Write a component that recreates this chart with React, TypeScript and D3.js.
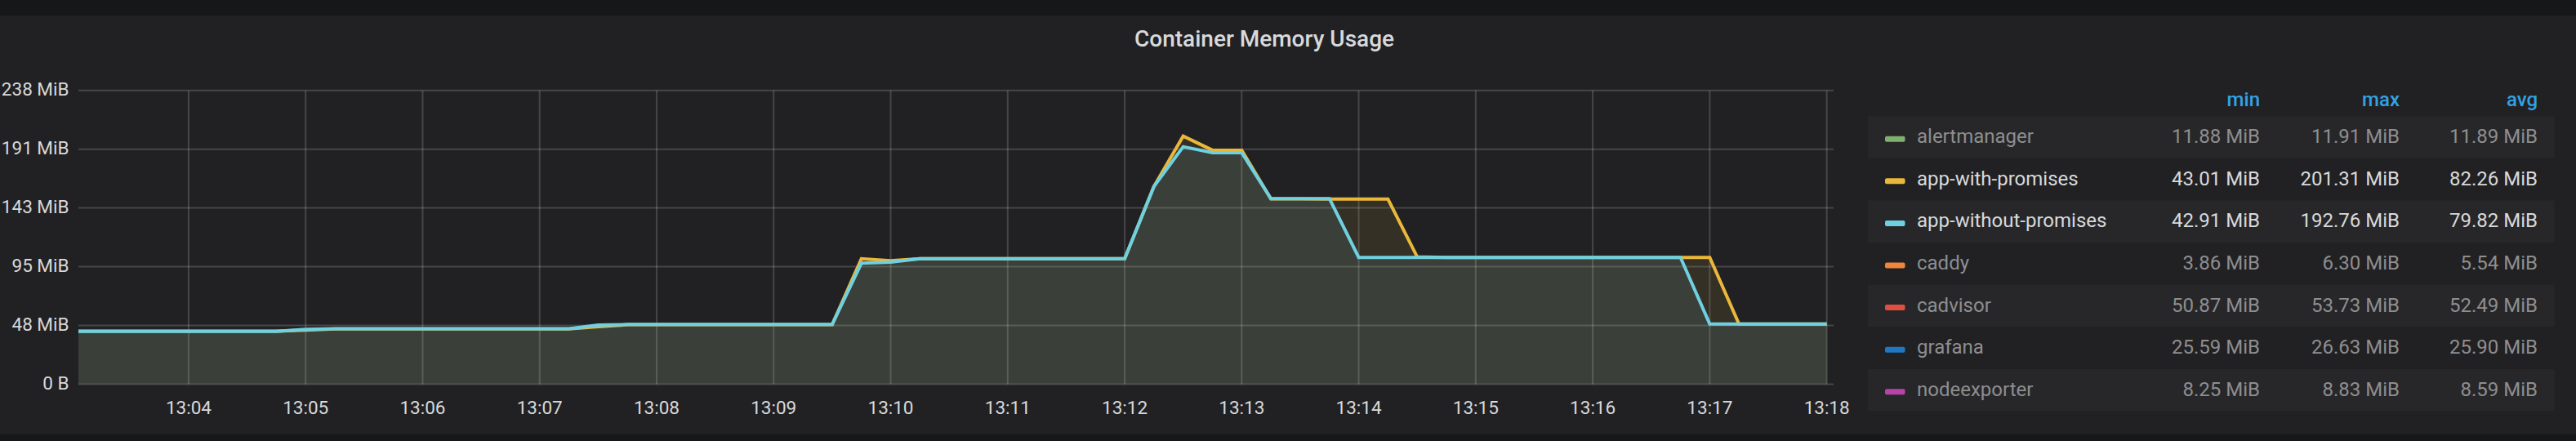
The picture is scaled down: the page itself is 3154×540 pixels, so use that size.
import React from "react";
import * as d3 from "d3";

const MIB = 1048576;

const times = [
  "13:03:00", "13:03:15", "13:03:30", "13:03:45", "13:04:00", "13:04:15", "13:04:30", "13:04:45",
  "13:05:00", "13:05:15", "13:05:30", "13:05:45", "13:06:00", "13:06:15", "13:06:30", "13:06:45",
  "13:07:00", "13:07:15", "13:07:30", "13:07:45", "13:08:00", "13:08:15", "13:08:30", "13:08:45",
  "13:09:00", "13:09:15", "13:09:30", "13:09:45", "13:10:00", "13:10:15", "13:10:30", "13:10:45",
  "13:11:00", "13:11:15", "13:11:30", "13:11:45", "13:12:00", "13:12:15", "13:12:30", "13:12:45",
  "13:13:00", "13:13:15", "13:13:30", "13:13:45", "13:14:00", "13:14:15", "13:14:30", "13:14:45",
  "13:15:00", "13:15:15", "13:15:30", "13:15:45", "13:16:00", "13:16:15", "13:16:30", "13:16:45",
  "13:17:00", "13:17:15", "13:17:30", "13:17:45", "13:18:00",
];

// MiB
const appWithPromises = [
  43.01, 43.01, 43.01, 43.01, 43.01, 43.01, 43.01, 43.05,
  43.9, 44.9, 44.9, 44.9, 44.9, 44.9, 44.9, 44.9,
  44.9, 44.9, 46.7, 48.3, 48.3, 48.3, 48.3, 48.3,
  48.3, 48.3, 48.3, 101.9, 100.2, 101.8, 101.8, 101.8,
  101.8, 101.8, 101.8, 101.8, 101.8, 160.5, 201.31, 189.9,
  189.9, 150.4, 150.4, 150.2, 150.2, 150.2, 103.3, 102.9,
  102.9, 102.9, 102.9, 102.9, 102.9, 102.9, 102.9, 102.9,
  102.9, 48.9, 48.9, 48.9, 48.9,
];

const appWithoutPromises = [
  42.91, 42.91, 42.91, 42.91, 42.91, 42.91, 42.91, 42.91,
  44.6, 45.0, 45.0, 45.0, 45.0, 45.0, 45.0, 45.0,
  45.0, 45.0, 48.0, 48.5, 48.5, 48.5, 48.5, 48.5,
  48.5, 48.5, 48.5, 98.2, 99.1, 101.8, 101.8, 101.8,
  101.8, 101.8, 101.8, 101.8, 101.8, 160.5, 192.76, 187.9,
  187.9, 150.6, 150.6, 150.6, 102.9, 102.9, 102.9, 102.9,
  102.9, 102.9, 102.9, 102.9, 102.9, 102.9, 102.9, 102.9,
  48.9, 48.9, 48.9, 48.9, 48.9,
];

const seriesNames = ["alertmanager", "app-with-promises", "app-without-promises", "caddy", "cadvisor", "grafana", "nodeexporter"];
const seriesColors = ["#7eb26d", "#eab839", "#6ed0e0", "#ef843c", "#e24d42", "#1f78c1", "#ba43a9"];
const seriesVisible = [false, true, true, false, false, false, false];
const legendMin = ["11.88 MiB", "43.01 MiB", "42.91 MiB", "3.86 MiB", "50.87 MiB", "25.59 MiB", "8.25 MiB"];
const legendMax = ["11.91 MiB", "201.31 MiB", "192.76 MiB", "6.30 MiB", "53.73 MiB", "26.63 MiB", "8.83 MiB"];
const legendAvg = ["11.89 MiB", "82.26 MiB", "79.82 MiB", "5.54 MiB", "52.49 MiB", "25.90 MiB", "8.59 MiB"];
const legendHeaders = ["min", "max", "avg"];

const yTickBytes = [0, 50e6, 100e6, 150e6, 200e6, 250e6];
const yTickLabels = ["0 B", "48 MiB", "95 MiB", "143 MiB", "191 MiB", "238 MiB"];
const xTickLabels = ["13:04", "13:05", "13:06", "13:07", "13:08", "13:09", "13:10", "13:11", "13:12", "13:13", "13:14", "13:15", "13:16", "13:17", "13:18"];
const rangeStart = "13:03:03.5";
const rangeEnd = "13:18:03.5";
const title = "Container Memory Usage";

function toDate(s: string): Date {
  const parts = s.split(":").map(Number);
  const sec = parts[2] || 0;
  return new Date(2020, 0, 1, parts[0], parts[1], 0, Math.round(sec * 1000));
}

const W = 3154;
const H = 540;
const PL = 96, PR = 2245, PT = 110.7, PB = 470.5;
const FONT = "Roboto, 'Noto Sans', sans-serif";

export default function App() {
  const x = d3.scaleTime().domain([toDate(rangeStart), toDate(rangeEnd)]).range([PL, PR]);
  const y = d3.scaleLinear().domain([0, 250e6 / MIB]).range([PB, PT]);

  const mk = (vals: number[]) => times.map((t, i) => [toDate(t), vals[i]] as [Date, number]);
  const line = d3.line<[Date, number]>().x(d => x(d[0])).y(d => y(d[1]));
  const area = d3.area<[Date, number]>().x(d => x(d[0])).y0(y(0)).y1(d => y(d[1]));

  const drawn = [
    { data: mk(appWithPromises), color: seriesColors[1] },
    { data: mk(appWithoutPromises), color: seriesColors[2] },
  ];

  const rowTop0 = 142.2;
  const rowH = 51.6;
  const colRight = [2767, 2938, 3107];

  return (
    <svg width={W} height={H} style={{ position: "absolute", left: 0, top: 0, display: "block" }} fontFamily={FONT}>
      <rect x={0} y={0} width={W} height={H} fill="#161719" />
      <rect x={0} y={19} width={W} height={512.7} fill="#212124" />
      <text x={1548} y={57} textAnchor="middle" fontSize={28} fontWeight={500} fill="#d8d9da">{title}</text>

      <defs>
        <clipPath id="plotclip">
          <rect x={PL} y={PT - 10} width={PR - PL} height={PB - PT + 10} />
        </clipPath>
      </defs>

      {/* grid */}
      {yTickBytes.map((b, i) => (
        <line key={"gy" + i} x1={PL} x2={PR} y1={y(b / MIB)} y2={y(b / MIB)} stroke="#ffffff" strokeOpacity={0.17} strokeWidth={2} />
      ))}
      {xTickLabels.map((l, i) => (
        <line key={"gx" + i} x1={x(toDate(l))} x2={x(toDate(l))} y1={PT} y2={PB} stroke="#ffffff" strokeOpacity={0.17} strokeWidth={2} />
      ))}

      <g clipPath="url(#plotclip)">
        {drawn.map((s, i) => (
          <g key={"s" + i}>
            <path d={area(s.data) || ""} fill={s.color} fillOpacity={0.1} />
            <path d={line(s.data) || ""} fill="none" stroke={s.color} strokeWidth={4} />
          </g>
        ))}
      </g>

      {/* y labels */}
      {yTickBytes.map((b, i) => (
        <text key={"yl" + i} x={84.5} y={y(b / MIB) + 6} textAnchor="end" fontSize={22.5} fill="#d8d9da">{yTickLabels[i]}</text>
      ))}
      {/* x labels */}
      {xTickLabels.map((l, i) => (
        <text key={"xl" + i} x={x(toDate(l))} y={506.7} textAnchor="middle" fontSize={22.5} fill="#d8d9da">{l}</text>
      ))}

      {/* legend */}
      {legendHeaders.map((h, i) => (
        <text key={"lh" + i} x={colRight[i]} y={129.5} textAnchor="end" fontSize={24} fontWeight={500} fill="#33a2e5">{h}</text>
      ))}
      {seriesNames.map((n, i) => {
        const top = rowTop0 + i * rowH;
        const tc = seriesVisible[i] ? "#d8d9da" : "#8e8e8e";
        const vals = [legendMin[i], legendMax[i], legendAvg[i]];
        return (
          <g key={"lr" + i}>
            {i % 2 === 0 && <rect x={2287} y={top} width={840.5} height={rowH} fill="#27272a" />}
            <rect x={2308} y={top + 24.5} width={24.5} height={7} rx={2} fill={seriesColors[i]} />
            <text x={2347} y={top + 33} fontSize={24} fill={tc}>{n}</text>
            {vals.map((v, j) => (
              <text key={j} x={colRight[j]} y={top + 33} textAnchor="end" fontSize={24} fill={tc}>{v}</text>
            ))}
          </g>
        );
      })}
    </svg>
  );
}
